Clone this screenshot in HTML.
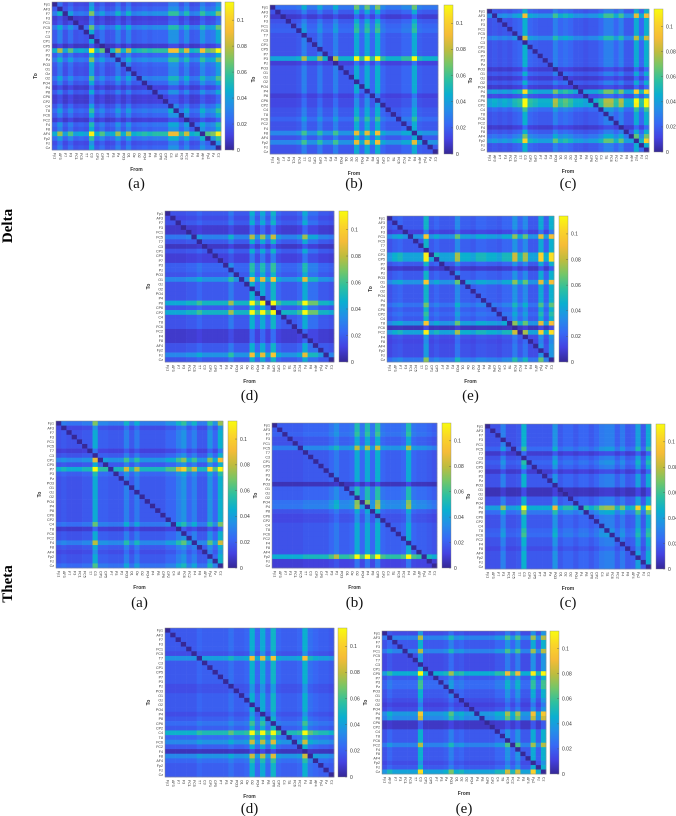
<!DOCTYPE html>
<html><head><meta charset="utf-8">
<style>
html,body{margin:0;padding:0;background:#fff;}
svg{display:block;}
</style></head>
<body>
<svg id="fig" width="676" height="816" viewBox="0 0 676 816" xmlns="http://www.w3.org/2000/svg">
<text x="12" y="226" transform="rotate(-90 12 226)" text-anchor="middle" font-family="Liberation Serif, serif" font-weight="bold" font-size="15">Delta</text>
<text x="12" y="584" transform="rotate(-90 12 584)" text-anchor="middle" font-family="Liberation Serif, serif" font-weight="bold" font-size="15">Theta</text>
</svg>
<script>
const channels = ["Fp1","AF3","F7","F3","FC1","FC5","T7","C3","CP1","CP5","P7","P3","Pz","PO3","O1","Oz","O2","PO4","P4","P8","CP6","CP2","C4","T8","FC6","FC2","F4","F8","AF4","Fp2","Fz","Cz"];
const colorbarTicks = [0, 0.02, 0.04, 0.06, 0.08, 0.1];
const tickLabels = ["0","0.02","0.04","0.06","0.08","0.1"];
const vmax = 0.114;

const deltaARows = [0.8,1,1.6,0.5,0.6,1.5,1,1,1,0.4,2.6,1,1.6,1,0.9,0.9,1.4,1,0.5,1,0.5,0.5,0.9,1.3,1,0.5,1.2,1,2.5,1.3,0.8,1];
const deltaACols = [0.018,0.03,0.016,0.025,0.016,0.018,0.016,0.044,0.018,0.025,0.016,0.018,0.03,0.018,0.03,0.018,0.02,0.022,0.02,0.022,0.022,0.022,0.036,0.036,0.022,0.033,0.018,0.02,0.036,0.025,0.028,0.044];
const deltaBRows = [1.5,1,0.5,1,1.2,1.3,1,1,1,1,1,2.6,0.6,1,1,1,1,1,1,0.6,0.8,0.8,1,1,1.3,1,1,2,1,2,1,1];
const deltaBCols = [0.016,0.016,0.016,0.016,0.016,0.018,0.03,0.018,0.018,0.028,0.018,0.018,0.03,0.018,0.018,0.018,0.044,0.022,0.044,0.022,0.046,0.022,0.018,0.018,0.018,0.022,0.022,0.044,0.02,0.018,0.018,0.018];
const deltaCRows = [1,2,1,1,1,1,1.8,1,1,1,1,1,1,0.5,1,0.5,1,0.5,2.3,0.8,2.6,2.5,1.3,1,1,1,0.5,1,1.5,2.2,1,1];
const deltaCCols = [0.016,0.018,0.016,0.018,0.016,0.02,0.022,0.046,0.022,0.02,0.018,0.018,0.018,0.03,0.022,0.025,0.022,0.018,0.018,0.016,0.018,0.018,0.022,0.03,0.03,0.022,0.03,0.018,0.018,0.044,0.022,0.046];
const deltaDRows = [1,0.8,1,0.5,0.5,1.7,1,0.4,1,0.6,0.6,1.2,1.2,1,2.0,1,1,1,1,2.7,1,2.7,1,1,1,0.5,0.5,0.5,1,1,2.0,1];
const deltaDCols = [0.016,0.016,0.016,0.016,0.018,0.018,0.022,0.018,0.018,0.018,0.018,0.018,0.028,0.018,0.018,0.018,0.046,0.022,0.044,0.022,0.048,0.022,0.018,0.018,0.018,0.022,0.044,0.025,0.025,0.018,0.018,0.016];
const deltaERows = [1,1,1,0.6,2,1,1,1,2.3,2.3,1,0.4,1,1,2,1,1,1,1,1.4,1,1.2,1,2,0.3,2.3,0.8,0.7,0.8,0.8,0.8,1.5];
const deltaECols = [0.016,0.02,0.022,0.018,0.018,0.018,0.018,0.048,0.018,0.022,0.018,0.018,0.018,0.033,0.02,0.02,0.018,0.022,0.022,0.02,0.02,0.018,0.022,0.022,0.036,0.022,0.033,0.018,0.018,0.044,0.02,0.046];
const thetaARows = [1.6,0.8,1,1,1,1,0.6,1,2,1,2.8,1.2,1,1,1,1,1,1,1,1,1,1,1.5,0.5,1,1,1.8,1,0.8,1,1,1.4];
const thetaACols = [0.016,0.018,0.016,0.016,0.016,0.018,0.018,0.044,0.02,0.02,0.018,0.018,0.018,0.03,0.018,0.028,0.018,0.018,0.018,0.018,0.018,0.022,0.022,0.03,0.036,0.022,0.03,0.018,0.018,0.036,0.022,0.046];
const thetaBRows = [1.2,1.2,1.3,1,1,1.8,1,1,1,1,1,1,1,0.3,1.2,1.2,1.2,1.6,1.7,1,0.8,0.8,1,1,1,1,1,1,1,2.8,0.6,0.6];
const thetaBCols = [0.016,0.016,0.016,0.016,0.016,0.016,0.018,0.018,0.018,0.018,0.018,0.022,0.028,0.02,0.02,0.022,0.044,0.022,0.044,0.022,0.046,0.022,0.02,0.02,0.02,0.022,0.044,0.022,0.02,0.02,0.018,0.016];
const thetaCRows = [1,1,1,1,1,1.3,0.5,1,1.2,1,0.5,1,1,1,0.3,0.3,1,1,2.5,1.5,1,1,1,1.2,1.3,1,1,0.8,1,1,1,1];
const thetaCCols = [0.015,0.016,0.016,0.03,0.016,0.016,0.018,0.046,0.018,0.018,0.018,0.018,0.018,0.036,0.018,0.022,0.022,0.018,0.022,0.022,0.018,0.022,0.028,0.03,0.03,0.02,0.028,0.018,0.02,0.04,0.018,0.044];
const thetaDRows = [1,1,1,1,1,0.8,2,1,1,1,1,1,0.8,0.8,1,1,1,1,0.8,1,1.3,1,2.6,1.2,1.8,1,0.3,1.8,1.2,1,1,1];
const thetaDCols = [0.018,0.018,0.018,0.018,0.018,0.018,0.022,0.02,0.02,0.02,0.02,0.02,0.025,0.02,0.02,0.022,0.046,0.022,0.044,0.022,0.048,0.022,0.02,0.02,0.02,0.022,0.046,0.025,0.022,0.02,0.02,0.018];
const thetaERows = [0.8,1.7,1,1,1.7,0.8,0.8,0.8,0.8,2.5,1,1.3,1.3,1,1,0.8,0.6,0.8,2.1,1.8,0.4,0.4,1,1,1,1.7,1,1,1,0.8,1,2.3];
const thetaECols = [0.016,0.022,0.018,0.018,0.018,0.018,0.018,0.046,0.018,0.018,0.018,0.018,0.02,0.03,0.02,0.022,0.018,0.018,0.018,0.018,0.018,0.018,0.022,0.022,0.036,0.022,0.036,0.018,0.018,0.044,0.02,0.046];

const panels = [
 {id:"delta-a",cap:"(a)",rows:deltaARows,cols:deltaACols,x0:52,x1:221,y0:2,y1:150,cb:225,capY:188},
 {id:"delta-b",cap:"(b)",rows:deltaBRows,cols:deltaBCols,x0:270,x1:438,y0:5,y1:154,cb:444,capY:188},
 {id:"delta-c",cap:"(c)",rows:deltaCRows,cols:deltaCCols,x0:487,x1:649,y0:9,y1:152,cb:654,capY:188},
 {id:"delta-d",cap:"(d)",rows:deltaDRows,cols:deltaDCols,x0:165,x1:334,y0:211,y1:362,cb:339,capY:400},
 {id:"delta-e",cap:"(e)",rows:deltaERows,cols:deltaECols,x0:387,x1:554,y0:216,y1:362,cb:559,capY:400},
 {id:"theta-a",cap:"(a)",rows:thetaARows,cols:thetaACols,x0:56,x1:223,y0:421,y1:568,cb:228,capY:607},
 {id:"theta-b",cap:"(b)",rows:thetaBRows,cols:thetaBCols,x0:272,x1:437,y0:423,y1:568,cb:442,capY:607},
 {id:"theta-c",cap:"(c)",rows:thetaCRows,cols:thetaCCols,x0:485,x1:651,y0:424,y1:569,cb:656,capY:607},
 {id:"theta-d",cap:"(d)",rows:thetaDRows,cols:thetaDCols,x0:165,x1:334,y0:628,y1:777,cb:338,capY:813},
 {id:"theta-e",cap:"(e)",rows:thetaERows,cols:thetaECols,x0:382,x1:546,y0:631,y1:774,cb:550,capY:813}
];

const stops = [[0,[54,40,150]],[0.1,[68,66,225]],[0.2,[55,105,245]],[0.3,[36,142,232]],[0.4,[10,175,208]],[0.5,[45,192,160]],[0.6,[115,198,105]],[0.7,[190,188,62]],[0.8,[245,188,55]],[0.9,[250,212,42]],[1,[249,251,14]]];
function parula(v){
  let t=Math.max(0,Math.min(1,v/vmax));
  for(let k=1;k<stops.length;k++){
    if(t<=stops[k][0]){
      const [a,ca]=stops[k-1],[b,cb]=stops[k];const f=(t-a)/(b-a);
      return "rgb("+ca.map((c,i)=>Math.round(c+(cb[i]-c)*f)).join(",")+")";
    }
  }
  return "rgb(249,251,14)";
}
const NS="http://www.w3.org/2000/svg";
const svg=document.getElementById("fig");
function mk(tag,attrs,parent){const e=document.createElementNS(NS,tag);for(const k in attrs)e.setAttribute(k,attrs[k]);(parent||svg).appendChild(e);return e;}

panels.forEach(p=>{
  const g=mk("g",{});
  
  
  const n=p.rows.length;
  const xs=j=>p.x0+(p.x1-p.x0)*j/n;
  const ys=i=>p.y0+(p.y1-p.y0)*i/n;
  for(let i=0;i<n;i++){
    for(let j=0;j<p.cols.length;j++){
      const v = i===j?0:Math.min(vmax,p.rows[i]*p.cols[j]);
      const r=mk("rect",{x:xs(j).toFixed(2),y:ys(i).toFixed(2),width:((p.x1-p.x0)/n+0.3).toFixed(2),height:((p.y1-p.y0)/n+0.3).toFixed(2),fill:parula(v)},g);
      
      
    }
  }
  const fr=mk("rect",{x:p.x0,y:p.y0,width:p.x1-p.x0,height:p.y1-p.y0,fill:"none",stroke:"#888","stroke-width":0.5},g);
  
  
  channels.forEach((c,i)=>{
    const t=mk("text",{x:p.x0-2,y:(ys(i)+ (p.y1-p.y0)/n*0.8).toFixed(2),"text-anchor":"end","font-size":3.6,"font-family":"Liberation Sans, sans-serif",fill:"#333"},g);
    t.textContent=c;
    
    
    const cx=xs(i)+(p.x1-p.x0)/n*0.5;
    const t2=mk("text",{x:cx.toFixed(2),y:p.y1+3,"font-size":3.6,"font-family":"Liberation Sans, sans-serif",fill:"#333",transform:"rotate(90 "+cx.toFixed(2)+" "+(p.y1+3)+")","dominant-baseline":"middle"},g);
    t2.textContent=c;
    
    
  });
  const ty=(p.y0+p.y1)/2, tx=p.x0-15;
  const to=mk("text",{x:tx,y:ty,"text-anchor":"middle","font-size":5,"font-weight":"bold","font-family":"Liberation Sans, sans-serif",fill:"#333",transform:"rotate(-90 "+tx+" "+ty+")"},g);
  to.textContent="To";
  
  
  const fm=mk("text",{x:(p.x0+p.x1)/2,y:p.y1+21,"text-anchor":"middle","font-size":5,"font-weight":"bold","font-family":"Liberation Sans, sans-serif",fill:"#333"},g);
  fm.textContent="From";
  
  
  const gid="grad-"+p.id;
  const lg=mk("linearGradient",{id:gid,x1:0,y1:1,x2:0,y2:0},g);
  stops.forEach(s=>mk("stop",{offset:s[0],"stop-color":"rgb("+s[1].join(",")+")"},lg));
  const cbw=9;
  const cb=mk("rect",{x:p.cb,y:p.y0,width:cbw,height:p.y1-p.y0,fill:"url(#"+gid+")",stroke:"#888","stroke-width":0.4},g);
  
  
  colorbarTicks.forEach((tv,k)=>{
    const yy=p.y1-(p.y1-p.y0)*tv/vmax;
    mk("line",{x1:p.cb+cbw-2,x2:p.cb+cbw,y1:yy,y2:yy,stroke:"#555","stroke-width":0.4},g);
    const tl=mk("text",{x:p.cb+cbw+3,y:yy+1.8,"font-size":5,"font-family":"Liberation Sans, sans-serif",fill:"#333"},g);
    tl.textContent=tickLabels[k];
    
    
  });
  const cap=mk("text",{x:(p.x0+p.x1)/2,y:p.capY,"text-anchor":"middle","font-size":15,"font-family":"Liberation Serif, serif",fill:"#111"},g);
  cap.textContent=p.cap;
  
  
});
</script>
</body></html>
